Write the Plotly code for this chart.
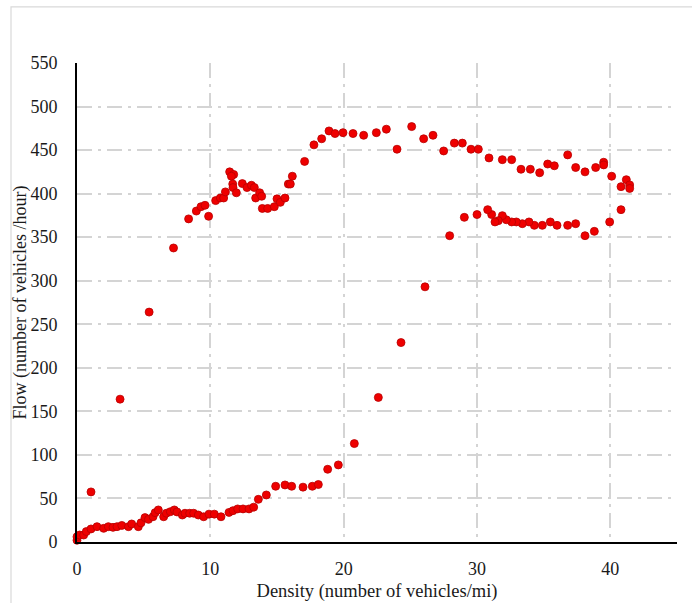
import plotly.graph_objects as go

# Density (vehicles/mi) and flow (vehicles/hour) observations
density = [
    0.0, 0.0, 0.2, 0.5, 0.7, 1.05, 1.05, 1.5, 2.0, 2.35, 2.7, 3.0, 3.23, 3.36,
    3.86, 4.1, 4.6, 4.8, 5.1, 5.36, 5.7, 5.86, 6.1, 6.5, 6.7, 7.0, 7.3, 7.5,
    7.9, 8.1, 8.45, 8.75, 9.1, 9.5, 9.9, 10.3, 10.8, 11.4, 11.7, 12.05, 12.45,
    12.9, 13.25, 13.6, 14.2, 14.9, 15.6, 16.1, 16.95, 17.65, 18.1, 18.8, 19.6,
    20.8, 22.6, 24.3, 26.1,
    5.41, 7.24, 8.37, 8.95, 9.3, 9.6, 9.87, 10.4, 10.75, 11.0, 11.13, 11.45,
    11.75, 11.58, 11.68, 11.7, 11.95, 12.4, 12.75, 13.08, 13.3, 13.4, 13.7,
    13.85, 13.9, 14.3, 14.8, 15.0, 15.25, 15.6, 15.85, 16.0, 16.15,
    17.07, 17.77, 18.35, 18.9, 19.35, 19.95, 20.7, 21.5, 22.45, 23.2, 24.0,
    25.1, 26.0, 26.7, 27.5, 28.3, 28.9, 29.55, 30.1, 30.9, 31.9, 32.6, 33.3,
    34.0, 34.7, 35.3, 35.8, 36.8, 37.4, 38.1, 38.9, 39.5, 39.5, 40.1, 40.8,
    41.2, 41.45, 41.45,
    40.8, 39.95, 38.8, 38.1, 37.4, 36.8, 36.0, 35.5, 34.9, 34.3, 33.9, 33.4,
    32.95, 32.6, 32.2, 31.9, 31.6, 31.35, 31.1, 30.8, 30.0, 29.05, 27.95,
]
flow = [
    2, 6, 8, 8, 12, 15, 57.5, 17.6, 15.7, 17.6, 16.8, 17.6, 164, 19,
    17.6, 20.7, 17.6, 22, 28, 26, 29, 33.7, 36.8, 29, 33, 34.8, 36.8, 34.5,
    31, 33, 33, 33, 31, 29, 32, 32, 29, 34, 36, 38, 38,
    38, 40, 49, 54, 64, 65.5, 64, 63, 64, 66, 83.5, 88.5,
    113, 166, 229, 293,
    264, 337.6, 371, 380, 385, 386.6, 374, 392, 395, 395, 402, 425,
    422, 420, 411, 407, 401, 411.5, 407, 409.6, 407, 395, 401,
    397, 383, 383, 385, 394, 390, 395, 411, 411, 420,
    437, 456, 463, 472, 469, 470, 469, 467, 470, 474, 451,
    477, 463, 467, 449, 458, 458, 451, 451, 441, 439, 439, 428,
    428, 424, 434, 432, 444.5, 430, 425, 430, 436, 433, 420, 408,
    416, 410, 406,
    381.6, 367.5, 356.7, 351.7, 365.5, 363.6, 363.6, 367.5, 363.6, 363.6, 367.5, 365.5,
    367.5, 367.5, 370, 374.7, 369, 367.5, 376, 381.6, 376, 372.8, 351.7,
]

x_ticks = [0, 10, 20, 30, 40]
y_ticks = [0, 50, 100, 150, 200, 250, 300, 350, 400, 450, 500, 550]

x_title = "Density (number of vehicles/mi)"
y_title = "Flow (number of vehicles /hour)"

serif = "Liberation Serif, Times New Roman, serif"
text_color = "#1a1a1a"
grid_color = "#d4d4d4"

fig = go.Figure(
    go.Scatter(
        x=density,
        y=flow,
        mode="markers",
        marker=dict(size=8, color="#ee0000", line=dict(color="#b80000", width=0.8)),
        cliponaxis=False,
    )
)

fig.update_layout(
    width=692,
    height=603,
    margin=dict(l=77, r=15, t=63, b=61),
    paper_bgcolor="white",
    plot_bgcolor="white",
    showlegend=False,
    font=dict(family=serif, size=18, color=text_color),
    shapes=[
        # light chart-area frame
        dict(
            type="rect", xref="paper", yref="paper",
            x0=-0.11, x1=1.2, y0=-0.3, y1=1.117,
            line=dict(color="#d9d9d9", width=1.2), layer="below",
        )
    ],
    annotations=[
        # vertical axis title, placed beside the tick labels
        dict(
            text=y_title, xref="paper", yref="paper",
            x=-0.095, y=0.5, xanchor="center", yanchor="middle",
            textangle=-90, showarrow=False,
            font=dict(family=serif, size=18, color=text_color),
        )
    ],
)

fig.update_xaxes(
    range=[0, 45],
    tickvals=x_ticks,
    automargin=False,
    showgrid=True,
    gridcolor=grid_color,
    griddash="longdashdot",
    gridwidth=1.5,
    showline=True,
    linecolor="black",
    linewidth=2,
    zeroline=False,
    ticks="",
    ticklabelstandoff=9,
    tickfont=dict(family=serif, size=18, color=text_color),
    title=dict(text=x_title, standoff=6,
               font=dict(family=serif, size=18.5, color=text_color)),
)

fig.update_yaxes(
    range=[0, 550],
    tickvals=y_ticks,
    automargin=False,
    showgrid=True,
    gridcolor=grid_color,
    griddash="longdashdot",
    gridwidth=1.5,
    showline=True,
    linecolor="black",
    linewidth=2,
    zeroline=False,
    ticks="",
    ticklabelstandoff=14,
    tickfont=dict(family=serif, size=18, color=text_color),
)

fig.write_html("out.html")
